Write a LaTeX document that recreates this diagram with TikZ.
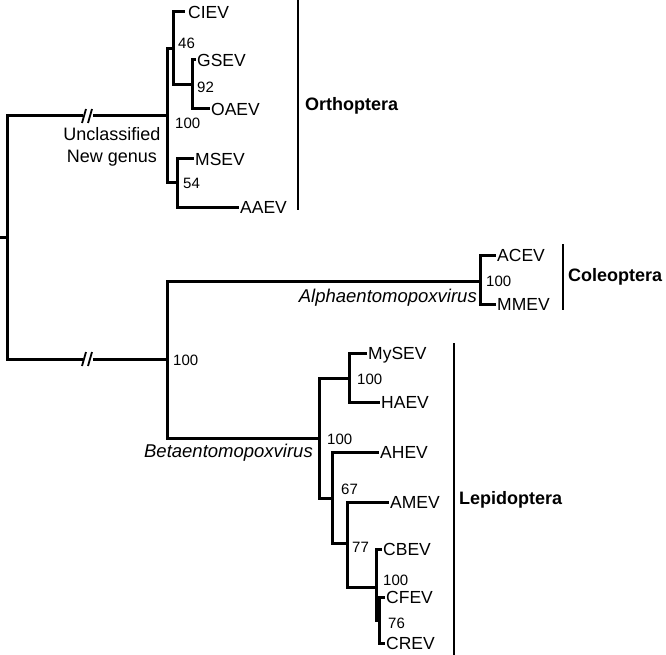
\documentclass[tikz,border=0pt]{standalone}
\usepackage{fontspec}
\setmainfont{Liberation Sans}
\begin{document}
\begin{tikzpicture}[x=1pt,y=-1pt,
  br/.style={line width=3pt,line cap=rect},
  bar/.style={line width=2.4pt},
  slash/.style={line width=1.8pt},
  leaf/.style={anchor=west,inner sep=0pt,text height=12.5pt,text depth=0pt,font=\fontsize{17.5}{20}\selectfont},
  boot/.style={anchor=west,inner sep=0pt,text height=11pt,text depth=0pt,font=\fontsize{15}{18}\selectfont},
  clade/.style={anchor=west,inner sep=0pt,text height=13pt,text depth=0pt,font=\fontsize{18}{21}\selectfont\bfseries},
  genus/.style={anchor=east,inner sep=0pt,text height=13pt,text depth=0pt,font=\fontsize{18.5}{21}\selectfont\itshape}]
\useasboundingbox (0,0) rectangle (666,655);
% coordinates
\coordinate (stub) at (0,237);
\coordinate (root) at (7,237);
\coordinate (rO) at (7,116);
\coordinate (rB) at (7,359);
\coordinate (o1a) at (81,116); \coordinate (o1b) at (94,116);
\coordinate (b1a) at (81,359); \coordinate (b1b) at (94,359);
\coordinate (nO) at (167,116);
\coordinate (nOa) at (167,49);
\coordinate (nOb) at (167,183);
\coordinate (nC) at (173,49);
\coordinate (nG) at (192,85);
\coordinate (nM) at (177,183);
\coordinate (nB) at (167,359);
\coordinate (nBa) at (167,281);
\coordinate (nBb) at (167,438);
\coordinate (nA) at (480,281);
\coordinate (nL) at (319,438);
\coordinate (nMy) at (349,378);
\coordinate (nAH) at (332,498);
\coordinate (nAM) at (347,543);
\coordinate (nCB) at (376,587);
\coordinate (nCF) at (379,620);
% leaves
\node[leaf] (CIEV) at (188,12) {CIEV};
\node[leaf] (GSEV) at (197,60) {GSEV};
\node[leaf] (OAEV) at (211,109) {OAEV};
\node[leaf] (MSEV) at (195,159) {MSEV};
\node[leaf] (AAEV) at (240,207) {AAEV};
\node[leaf] (ACEV) at (497,255) {ACEV};
\node[leaf] (MMEV) at (497,304) {MMEV};
\node[leaf] (MySEV) at (368,353) {MySEV};
\node[leaf] (HAEV) at (381,402) {HAEV};
\node[leaf] (AHEV) at (380,452) {AHEV};
\node[leaf] (AMEV) at (390,502) {AMEV};
\node[leaf] (CBEV) at (383,549) {CBEV};
\node[leaf] (CFEV) at (386,597) {CFEV};
\node[leaf] (CREV) at (386,643) {CREV};
% tree
\draw[br] (stub) -- (root);
\draw[br] (rO) -- (rB);
\draw[br] (rO) -- (o1a);
\draw[br] (o1b) -- (nO);
\draw[br] (rB) -- (b1a);
\draw[br] (b1b) -- (nB);
\draw[slash] (82,123) -- (86,109);
\draw[slash] (88,123) -- (92,109);
\draw[slash] (82,366) -- (86,352);
\draw[slash] (88,366) -- (92,352);
% Orthoptera
\draw[br] (nOa) -- (nOb);
\draw[br] (nOa) -- (nC);
\draw[br] (nC |- CIEV.west) -- (nC |- nG);
\draw[br] (nC |- CIEV.west) -- ([xshift=-5pt]CIEV.west);
\draw[br] (nC |- nG) -- (nG);
\draw[br] (nG |- GSEV.west) -- (nG |- OAEV.west);
\draw[br] (nG |- GSEV.west) -- ([xshift=-3pt]GSEV.west);
\draw[br] (nG |- OAEV.west) -- ([xshift=-3pt]OAEV.west);
\draw[br] (nOb) -- (nM);
\draw[br] (nM |- MSEV.west) -- (nM |- AAEV.west);
\draw[br] (nM |- MSEV.west) -- ([xshift=-3pt]MSEV.west);
\draw[br] (nM |- AAEV.west) -- ([xshift=-3pt]AAEV.west);
% B
\draw[br] (nBa) -- (nBb);
\draw[br] (nBa) -- (nA);
\draw[br] (nA |- ACEV.west) -- (nA |- MMEV.west);
\draw[br] (nA |- ACEV.west) -- ([xshift=-3pt]ACEV.west);
\draw[br] (nA |- MMEV.west) -- ([xshift=-3pt]MMEV.west);
\draw[br] (nBb) -- (nL);
\draw[br] (nL |- nMy) -- (nL |- nAH);
\draw[br] (nL |- nMy) -- (nMy);
\draw[br] (nMy |- MySEV.west) -- (nMy |- HAEV.west);
\draw[br] (nMy |- MySEV.west) -- ([xshift=-3pt]MySEV.west);
\draw[br] (nMy |- HAEV.west) -- ([xshift=-3pt]HAEV.west);
\draw[br] (nL |- nAH) -- (nAH);
\draw[br] (nAH |- AHEV.west) -- (nAH |- nAM);
\draw[br] (nAH |- AHEV.west) -- ([xshift=-3pt]AHEV.west);
\draw[br] (nAH |- nAM) -- (nAM);
\draw[br] (nAM |- AMEV.west) -- (nAM |- nCB);
\draw[br] (nAM |- AMEV.west) -- ([xshift=-3pt]AMEV.west);
\draw[br] (nAM |- nCB) -- (nCB);
\draw[br] (nCB |- CBEV.west) -- (nCB |- nCF);
\draw[br] (nCB |- CBEV.west) -- ([xshift=-3pt]CBEV.west);
\draw[br] (nCB |- nCF) -- (nCF);
\draw[br] (nCF |- CFEV.west) -- (nCF |- CREV.west);
\draw[br] (nCF |- CFEV.west) -- ([xshift=-3pt]CFEV.west);
\draw[br] (nCF |- CREV.west) -- ([xshift=-3pt]CREV.west);
% bootstrap
\node[boot] (b46) at (178,43) {46};
\node[boot] (b92) at (197,87) {92};
\node[boot] (b100o) at (175,123) {100};
\node[boot] (b54) at (183,183) {54};
\node[boot] (b100a) at (486,281) {100};
\node[boot] (b100b) at (173,360) {100};
\node[boot] (b100c) at (357,379) {100};
\node[boot] (b100l) at (327,439) {100};
\node[boot] (b67) at (341,489) {67};
\node[boot] (b77) at (352,547) {77};
\node[boot] (b100d) at (383,580) {100};
\node[boot] (b76) at (388,623) {76};
% genus labels
\node[align=center,inner sep=0pt,font=\fontsize{18}{22}\selectfont] (ung) at (112,147) {Unclassified\\New genus};
\node[genus] (alpha) at (477,296) {Alphaentomopoxvirus};
\node[genus] (beta) at (313,451) {Betaentomopoxvirus};
% clade bars
\draw[bar] (298,0) -- (298,210);
\node[clade] (orth) at (305,104) {Orthoptera};
\draw[bar] (563,244) -- (563,310);
\node[clade] (cole) at (568,275) {Coleoptera};
\draw[bar] (454,343) -- (454,655);
\node[clade] (lepi) at (459,498) {Lepidoptera};
\end{tikzpicture}
\end{document}
